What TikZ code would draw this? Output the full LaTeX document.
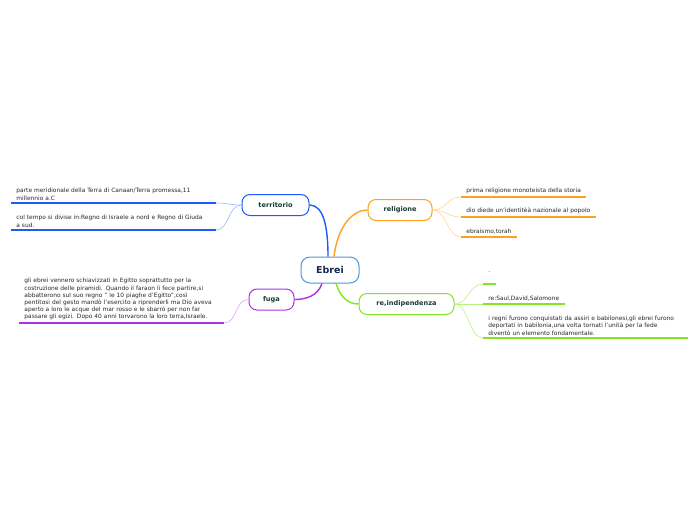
\documentclass[tikz,border=0pt]{standalone}
\usepackage{fontspec}
\setmainfont{DejaVu Sans}
\usetikzlibrary{positioning}

\definecolor{rootblue}{RGB}{80,150,215}
\definecolor{rootink}{RGB}{20,40,80}
\definecolor{topicink}{RGB}{25,60,50}
\definecolor{leafink}{RGB}{40,40,40}
\definecolor{terrblue}{RGB}{30,90,245}
\definecolor{relorange}{RGB}{255,160,30}
\definecolor{fugapurple}{RGB}{170,50,230}
\definecolor{indlime}{RGB}{130,230,30}

\begin{document}
\begin{tikzpicture}[
    x=1pt, y=-1pt, line width=0.8pt,
    root/.style={draw=rootblue,fill=white,rounded corners=9pt,line width=1pt,
      minimum width=58pt,minimum height=26pt,text=rootink,
      font=\bfseries\fontsize{9.5}{11}\selectfont},
    topic/.style={draw=#1,fill=white,rounded corners=8pt,line width=1pt,
      minimum height=21pt,text=topicink,font=\bfseries\fontsize{6.6}{7.5}\selectfont},
    leaf/.style={anchor=south west,inner xsep=5pt,inner ysep=2.5pt,align=left,
      text=leafink,font=\fontsize{5.9}{7.2}\selectfont},
    wide/.style={leaf,text width=194pt},
    branch/.style={draw=#1,line width=1.4pt},
    twig/.style={draw=#1,line width=0.6pt},
    uline/.style={draw=#1,line width=1.8pt}
]
\path[use as bounding box] (0,0) rectangle (696,520);

\node[root] (ebrei) at (330,270) {Ebrei};
\node[topic=terrblue,minimum width=67pt] (terr) at (275.5,205) {territorio};
\node[topic=relorange,minimum width=64pt] (rel) at (400,210) {religione};
\node[topic=fugapurple,minimum width=45pt] (fuga) at (271.5,299.5) {fuga};
\node[topic=indlime,minimum width=95pt] (indip) at (406.5,304) {re,indipendenza};

\draw[branch=terrblue] ([xshift=-2]ebrei.north) .. controls +(0,-30) and +(14,0) .. (terr.east);
\draw[branch=relorange] ([xshift=4]ebrei.north) .. controls +(4,-32) and +(-14,0) .. (rel.west);
\draw[branch=fugapurple] ([xshift=-8]ebrei.south) .. controls +(-4,12) and +(12,0) .. (fuga.east);
\draw[branch=indlime] ([xshift=6]ebrei.south) .. controls +(4,12) and +(-12,0) .. (indip.west);

% territorio
\node[wide] (t1) at (11,203) {parte meridionale della Terra di Canaan/Terra promessa,11\\millennio a.C};
\node[wide] (t2) at (11,230) {col tempo si divise in:Regno di Israele a nord e Regno di Giuda\\a sud.};
% fuga
\node[wide] (f1) at (19,323) {gli ebrei vennero schiavizzati in Egitto soprattutto per la\\
  costruzione delle piramidi. Quando il faraon li fece partire,si\\
  abbatterono sul suo regno " le 10 piaghe d'Egitto",così\\
  pentitosi del gesto mandò l'esercito a riprenderli ma Dio aveva\\
  aperto a loro le acque del mar rosso e le sbarrò per non far\\
  passare gli egizi. Dopo 40 anni torvarono la loro terra,Israele.};
% religione
\node[leaf] (r1) at (461,197) {prima religione monoteista della storia};
\node[leaf] (r2) at (461,217) {dio diede un'identitèà nazionale al popolo};
\node[leaf] (r3) at (461,237) {ebraismo,torah};
% re,indipendenza
\node[leaf,minimum height=14pt,text depth=8pt] (i1) at (483,284) {.};
\node[leaf] (i2) at (483,304) {re:Saul,David,Salomone};
\node[wide] (i3) at (483,338) {i regni furono conquistati da assiri e babilonesi,gli ebrei furono\\
  deportati in babilonia,una volta tornati l'unità per la fede\\
  diventò un elemento fondamentale.};

\foreach \n/\c in {t1/terrblue,t2/terrblue,f1/fugapurple,r1/relorange,r2/relorange,
    r3/relorange,i1/indlime,i2/indlime,i3/indlime}
  \draw[uline=\c] (\n.south west) -- (\n.south east);

\foreach \n in {t1,t2}
  \draw[twig=terrblue!45] (terr.west) .. controls +(-14,0) and +(14,0) .. (\n.south east);
\draw[twig=fugapurple!45] (fuga.west) .. controls +(-14,0) and +(14,0) .. (f1.south east);
\foreach \n in {r1,r2,r3}
  \draw[twig=relorange!45] (rel.east) .. controls +(14,0) and +(-14,0) .. (\n.south west);
\foreach \n in {i1,i2,i3}
  \draw[twig=indlime!55] (indip.east) .. controls +(14,0) and +(-14,0) .. (\n.south west);
\end{tikzpicture}
\end{document}
